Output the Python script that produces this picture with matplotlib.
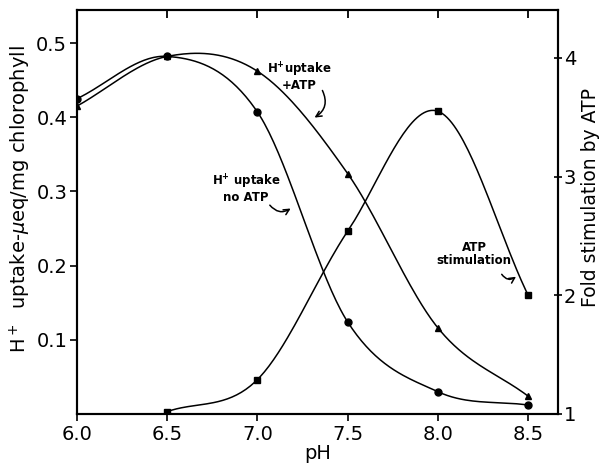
import matplotlib as mpl
mpl.use('Agg')
import matplotlib.pyplot as plt
from matplotlib.ticker import FixedLocator
import numpy as np

# data
ph = [6.0, 6.5, 7.0, 7.5, 8.0, 8.5]
uptake_no_atp = [0.425, 0.482, 0.407, 0.124, 0.030, 0.012]
uptake_atp = [0.415, 0.482, 0.462, 0.324, 0.116, 0.024]
ph_stim = [6.5, 7.0, 7.5, 8.0, 8.5]
atp_stim = [1.02, 1.29, 2.54, 3.55, 2.00]


def smooth(xs, ys, n=40):
    # cubic hermite curve through the points (drawn by hand in the original)
    xs = np.asarray(xs, float)
    ys = np.asarray(ys, float)
    m = np.zeros_like(ys)
    m[0] = (ys[1] - ys[0]) / (xs[1] - xs[0])
    m[-1] = (ys[-1] - ys[-2]) / (xs[-1] - xs[-2])
    m[1:-1] = (ys[2:] - ys[:-2]) / (xs[2:] - xs[:-2])
    px, py = [], []
    for i in range(len(xs) - 1):
        h = xs[i + 1] - xs[i]
        t = np.linspace(0, 1, n)
        h00 = 2 * t**3 - 3 * t**2 + 1
        h10 = t**3 - 2 * t**2 + t
        h01 = -2 * t**3 + 3 * t**2
        h11 = t**3 - t**2
        px.append(xs[i] + t * h)
        py.append(h00 * ys[i] + h10 * h * m[i] + h01 * ys[i + 1] + h11 * h * m[i + 1])
    return np.concatenate(px), np.concatenate(py)


fig = plt.figure(figsize=(6.06, 4.68), dpi=100)
ax = fig.add_axes([0.127, 0.1154, 0.794, 0.8632])
ax2 = ax.twinx()

lw = 1.1
x, y = smooth(ph, uptake_no_atp)
ax.plot(x, y, color='black', lw=lw)
ax.plot(ph, uptake_no_atp, 'o', color='black', ms=5)
x, y = smooth(ph, uptake_atp)
ax.plot(x, y, color='black', lw=lw)
ax.plot(ph, uptake_atp, '^', color='black', ms=5)
x, y = smooth(ph_stim, atp_stim)
ax2.plot(x, y, color='black', lw=lw)
ax2.plot(ph_stim, atp_stim, 's', color='black', ms=4.5)

ax.set_xlim(6.0, 8.666)
ax.set_ylim(0, 0.5445)
ax2.set_ylim(1, 4.403)

ax.set_xticks(ph)
ax.set_xticklabels(['6.0', '6.5', '7.0', '7.5', '8.0', '8.5'])
ax.set_yticks([0.1, 0.2, 0.3, 0.4, 0.5])
ax.set_yticklabels(['0.1', '0.2', '0.3', '0.4', '0.5'])
ax2.set_yticks([1, 2, 3, 4])

for a in (ax, ax2):
    for s in a.spines.values():
        s.set_linewidth(1.5)
ax.tick_params(axis='both', labelsize=14, width=1.2, length=5, pad=2, direction='out')
ax.tick_params(axis='x', pad=3)
ax2.tick_params(axis='y', labelsize=14, width=1.2, length=6, direction='inout', pad=1)

# short inward ticks along the top (minor ticks placed on the top side only)
ax.xaxis.set_minor_locator(FixedLocator(ph[1:]))
ax.xaxis.remove_overlapping_locs = False
ax.tick_params(axis='x', which='minor', top=True, bottom=False, direction='in',
               length=6, width=1.3, labelbottom=False, labeltop=False)

ax.set_xlabel('pH', fontsize=14, labelpad=0)
fig.text(0.033, 0.575, r'H$^+$  uptake-$\mu$eq/mg chlorophyll', rotation=90,
         ha='center', va='center', fontsize=14)
fig.text(0.974, 0.578, 'Fold stimulation by ATP', rotation=90,
         ha='center', va='center', fontsize=13.5)

# labels with little curved arrows
ax.text(7.231, 0.455, 'H$^\\mathbf{+}$uptake\n+ATP', ha='center', va='center',
        fontsize=8.5, fontweight='bold', linespacing=1.05)
ax.annotate('', xy=(7.303, 0.3976), xytext=(7.353, 0.4394),
            arrowprops=dict(arrowstyle='->', lw=1.1, color='black',
                            connectionstyle='arc3,rad=-0.5'))
ax.text(6.937, 0.304, 'H$^\\mathbf{+}$ uptake\nno ATP', ha='center', va='center',
        fontsize=8.5, fontweight='bold', linespacing=1.05)
ax.annotate('', xy=(7.197, 0.279), xytext=(7.059, 0.2844),
            arrowprops=dict(arrowstyle='->', lw=1.1, color='black',
                            connectionstyle='arc3,rad=0.5'))
ax.text(8.20, 0.2156, 'ATP\nstimulation', ha='center', va='center',
        fontsize=8.5, fontweight='bold', linespacing=1.05)
ax.annotate('', xy=(8.445, 0.1873), xytext=(8.345, 0.1914),
            arrowprops=dict(arrowstyle='->', lw=1.1, color='black',
                            connectionstyle='arc3,rad=0.6'))

plt.savefig('out.png', dpi=100)
